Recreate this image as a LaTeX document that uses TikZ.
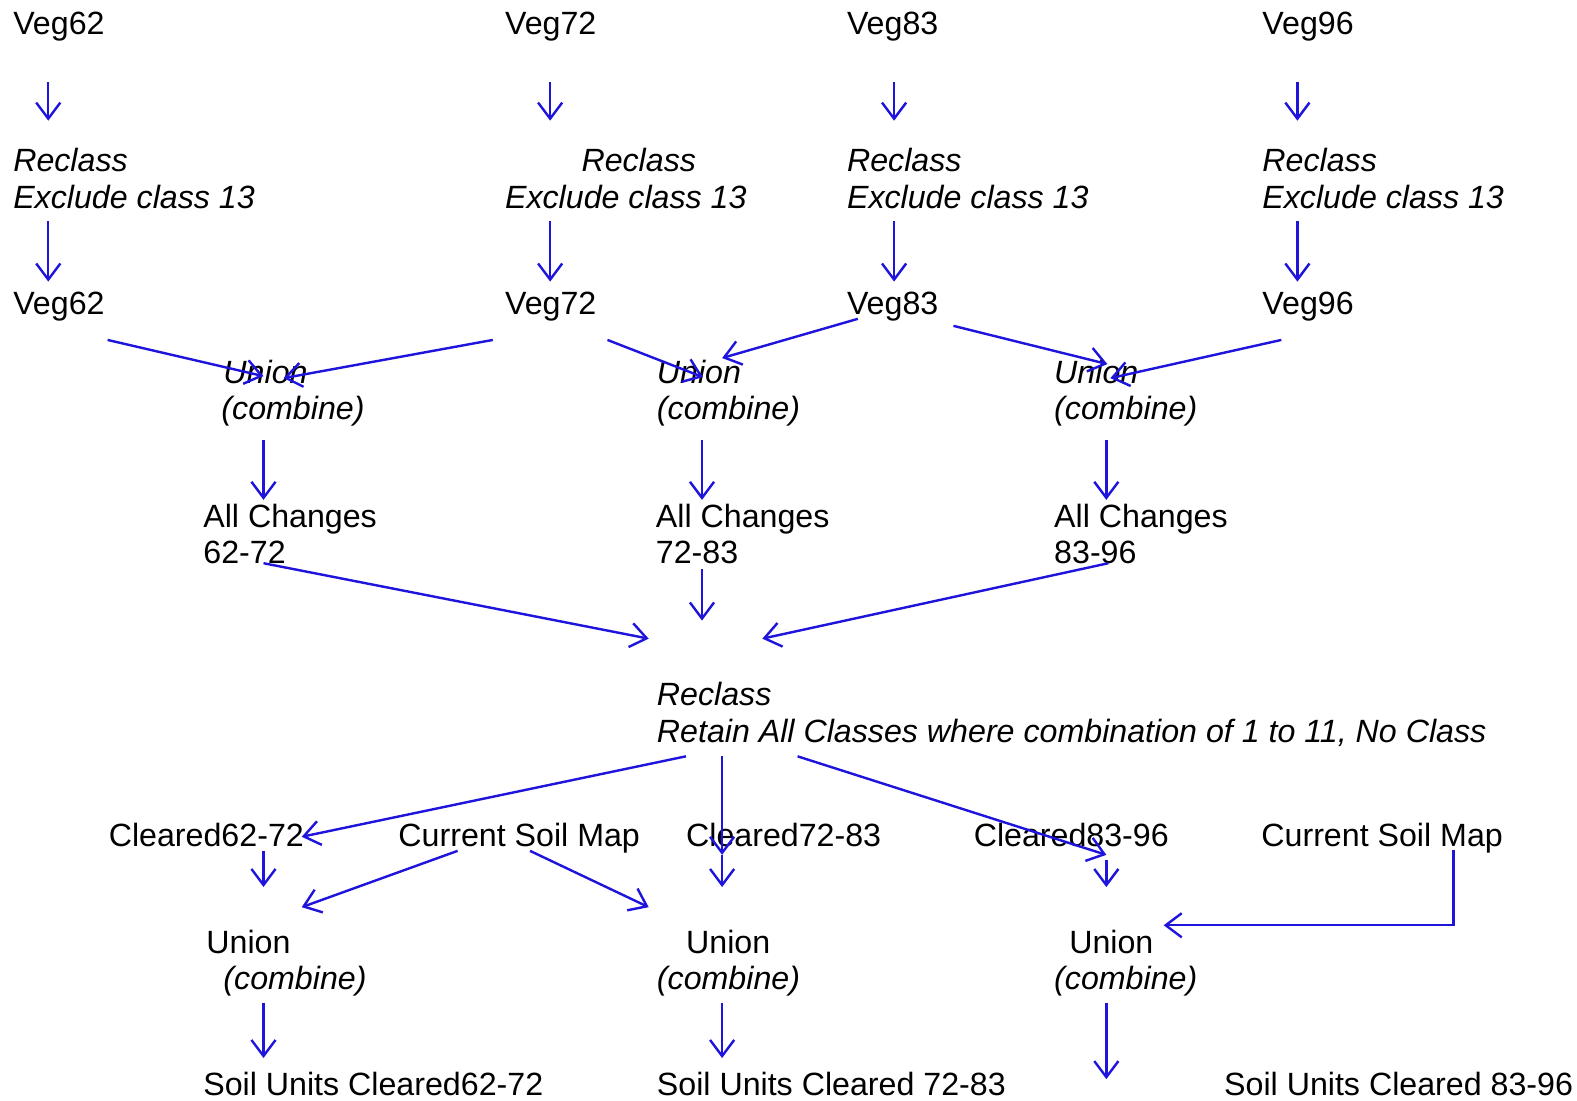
\documentclass[tikz,border=0pt]{standalone}
\usepackage{fontspec}
\setmainfont{Liberation Sans}
\usetikzlibrary{arrows.meta}
\definecolor{flowblue}{RGB}{30,20,220}

% A flow arrow between two named points
\newcommand\flow[3]{%
  \coordinate (#1s) at (#2);
  \coordinate (#1e) at (#3);
  \draw[flowarrow] (#1s) -- (#1e);}

\begin{document}
\begin{tikzpicture}[x=1pt,y=-1pt,
  lbl/.style={anchor=base west,inner sep=0pt,font=\fontsize{32}{37}\selectfont},
  op/.style={lbl,font=\fontsize{32}{37}\selectfont\itshape},
  flowarrow/.style={draw=flowblue,line width=2.4pt,
    -{Straight Barb[length=16pt,width=24pt,line width=2.4pt]}}]
\fill[white] (0,0) rectangle (1568,1094);
\useasboundingbox (0,0) rectangle (1568,1094);

% --- source layers
\node[lbl] (v62) at (13,34) {Veg62};
\node[lbl] (v72) at (502,34) {Veg72};
\node[lbl] (v83) at (842,34) {Veg83};
\node[lbl] (v96) at (1255,34) {Veg96};

% --- reclass steps
\node[op] (r62a) at (13,171) {Reclass};
\node[op] (r62b) at (13,207) {Exclude class 13};
\node[op] (r72a) at (578,171) {Reclass};
\node[op] (r72b) at (502,207) {Exclude class 13};
\node[op] (r83a) at (842,171) {Reclass};
\node[op] (r83b) at (842,207) {Exclude class 13};
\node[op] (r96a) at (1255,171) {Reclass};
\node[op] (r96b) at (1255,207) {Exclude class 13};

% --- reclassed layers
\node[lbl] (w62) at (13,313) {Veg62};
\node[lbl] (w72) at (502,313) {Veg72};
\node[lbl] (w83) at (842,313) {Veg83};
\node[lbl] (w96) at (1255,313) {Veg96};

% --- union steps
\node[op] (u1a) at (222,381) {Union};
\node[op] (u1b) at (220,417) {(combine)};
\node[op] (u2a) at (653,381) {Union};
\node[op] (u2b) at (653,417) {(combine)};
\node[op] (u3a) at (1048,381) {Union};
\node[op] (u3b) at (1048,417) {(combine)};

% --- change layers
\node[lbl] (c1a) at (202,524) {All Changes};
\node[lbl] (c1b) at (202,560) {62-72};
\node[lbl] (c2a) at (652,524) {All Changes};
\node[lbl] (c2b) at (652,560) {72-83};
\node[lbl] (c3a) at (1048,524) {All Changes};
\node[lbl] (c3b) at (1048,560) {83-96};

% --- final reclass
\node[op] (ra) at (653,701) {Reclass};
\node[op] (rb) at (653,738) {Retain All Classes where combination of 1 to 11, No Class};

% --- cleared layers and soil maps
\node[lbl] (cl1) at (108,842) {Cleared62-72};
\node[lbl] (sm1) at (396,842) {Current Soil Map};
\node[lbl] (cl2) at (682,842) {Cleared72-83};
\node[lbl] (cl3) at (968,842) {Cleared83-96};
\node[lbl] (sm2) at (1254,842) {Current Soil Map};

% --- soil unions
\node[lbl] (s1a) at (205,948) {Union};
\node[op]  (s1b) at (222,984) {(combine)};
\node[lbl] (s2a) at (682,948) {Union};
\node[op]  (s2b) at (653,984) {(combine)};
\node[lbl] (s3a) at (1063,948) {Union};
\node[op]  (s3b) at (1048,984) {(combine)};

% --- results
\node[lbl] (o1) at (202,1089) {Soil Units Cleared62-72};
\node[lbl] (o2) at (653,1089) {Soil Units Cleared 72-83};
\node[lbl] (o3) at (1217,1089) {Soil Units Cleared 83-96};

% --- connectors
\flow{a1}{48,82}{48,120}
\flow{a2}{547,82}{547,120}
\flow{a3}{889,82}{889,120}
\flow{a4}{1290,82}{1290,120}
\flow{b1}{48,220}{48,280}
\flow{b2}{547,220}{547,280}
\flow{b3}{889,220}{889,280}
\flow{b4}{1290,220}{1290,280}

\flow{c1}{107,338}{262,374}
\flow{c2}{490,338}{282,376}
\flow{c3}{604,338}{699,375}
\flow{c4}{853,317}{718,356}
\flow{c5}{948,324}{1101,362}
\flow{c6}{1274,338}{1104,376}

\flow{d1}{262,437}{262,497}
\flow{d2}{698,437}{698,497}
\flow{d3}{1100,437}{1100,497}

\flow{e1}{262,560}{645,635}
\flow{e2}{698,566}{698,617}
\flow{e3}{1102,560}{758,635}

\flow{f1}{682,752}{300,832}
\flow{f2}{718,752}{718,850}
\flow{f3}{793,752}{1100,850}

\flow{g1}{262,846}{262,882}
\flow{g2}{718,850}{718,882}
\flow{g3}{1100,855}{1100,882}

\flow{h1}{455,846}{300,902}
\flow{h2}{527,846}{645,902}
\coordinate (h3s) at (1445,845);
\coordinate (h3e) at (1157,920);
\draw[flowarrow] (h3s) |- (h3e);

\flow{i1}{262,997}{262,1052}
\flow{i2}{718,997}{718,1052}
\flow{i3}{1100,997}{1100,1073}
\end{tikzpicture}
\end{document}
